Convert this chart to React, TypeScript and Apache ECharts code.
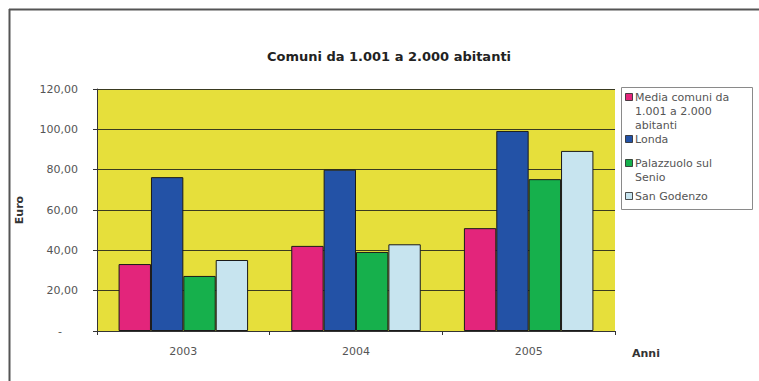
import React, { useEffect, useRef } from "react";
import * as echarts from "echarts";

const titleText = "Comuni da 1.001 a 2.000 abitanti";
const categories = ["2003", "2004", "2005"];
const seriesNames = ["Media comuni da 1.001 a 2.000 abitanti", "Londa", "Palazzuolo sul Senio", "San Godenzo"];
const legendLines = [["Media comuni da", "1.001 a 2.000", "abitanti"], ["Londa"], ["Palazzuolo sul", "Senio"], ["San Godenzo"]];
const mediaValues = [33.2, 42.2, 51.0];
const londaValues = [76.3, 80.0, 99.2];
const palazzuoloValues = [27.3, 39.2, 75.3];
const sanGodenzoValues = [35.2, 43.0, 89.3];
const seriesValues = [mediaValues, londaValues, palazzuoloValues, sanGodenzoValues];
const colors = ["#e3257b", "#2352a6", "#16b04c", "#c7e4ef"];
const yMin = 0;
const yMax = 120;
const yStep = 20;

const FONT = "DejaVu Sans";

export default function App() {
  const ref = useRef<HTMLDivElement>(null);
  useEffect(() => {
    if (!ref.current) return;
    const chart = echarts.init(ref.current, undefined, { renderer: "svg" });

    const legendTops = [97, 139, 163, 196];
    const lineH = 14;
    const legendGraphics: any[] = [
      {
        type: "rect",
        shape: { x: 621.5, y: 87.5, width: 131, height: 122 },
        style: { fill: "#fff", stroke: "#8a8a8a", lineWidth: 1 },
        z: 10,
      },
    ];
    legendLines.forEach((lines, i) => {
      const y0 = legendTops[i];
      legendGraphics.push({
        type: "rect",
        shape: { x: 625.5, y: y0 - 3.5, width: 7, height: 7 },
        style: { fill: colors[i], stroke: "#222", lineWidth: 0.8 },
        z: 11,
      });
      lines.forEach((ln, j) => {
        legendGraphics.push({
          type: "text",
          x: 635,
          y: y0 + j * lineH,
          style: {
            text: ln,
            fill: "#555",
            font: `11px "${FONT}"`,
            textVerticalAlign: "middle",
            verticalAlign: "middle",
          },
          z: 11,
        });
      });
    });

    chart.setOption({
      animation: false,
      backgroundColor: "#ffffff",
      title: {
        text: titleText,
        left: 384,
        textAlign: "center",
        top: 45,
        textStyle: { fontFamily: FONT, fontWeight: "bold", fontSize: 13, color: "#222" },
      },
      grid: {
        left: 97,
        right: 144,
        top: 89,
        bottom: 50,
        show: true,
        backgroundColor: "#e6df3b",
        borderWidth: 0,
      },
      xAxis: {
        type: "category",
        data: categories,
        name: "Anni",
        nameLocation: "end",
        nameGap: 17,
        nameTextStyle: {
          fontFamily: FONT,
          fontWeight: "bold",
          fontSize: 11,
          color: "#333",
          verticalAlign: "top",
          padding: [17, 0, 0, 0],
        },
        axisLine: { show: true, lineStyle: { color: "#333", width: 1 } },
        axisTick: { show: true, length: 4, lineStyle: { color: "#333" } },
        axisLabel: { margin: 15, fontFamily: FONT, fontSize: 11, color: "#555" },
      },
      yAxis: {
        type: "value",
        min: yMin,
        max: yMax,
        interval: yStep,
        name: "Euro",
        nameLocation: "middle",
        nameRotate: 90,
        nameGap: 72,
        nameTextStyle: { fontFamily: FONT, fontWeight: "bold", fontSize: 11, color: "#333" },
        axisLine: { show: true, lineStyle: { color: "#333", width: 1 } },
        axisTick: { show: true, length: 4, inside: false, lineStyle: { color: "#333" } },
        splitLine: { show: true, lineStyle: { color: "#3a3a20", width: 1 } },
        axisLabel: {
          margin: 19,
          fontFamily: FONT,
          fontSize: 11,
          color: "#555",
          formatter: (v: number) => (v === 0 ? "{z|-}" : v.toFixed(2).replace(".", ",")),
          rich: { z: { fontFamily: FONT, fontSize: 11, color: "#555", padding: [0, 16, 0, 0] } },
        },
      },
      series: seriesValues.map((vals, i) => ({
        type: "bar",
        name: seriesNames[i],
        data: vals,
        barGap: "0%",
        barCategoryGap: "25%",
        itemStyle: { color: colors[i], borderColor: "#1a1a1a", borderWidth: 1 },
      })),
      graphic: [
        {
          type: "line",
          shape: { x1: 9, y1: 9.5, x2: 759, y2: 9.5 },
          style: { stroke: "#555", lineWidth: 2 },
        },
        {
          type: "line",
          shape: { x1: 9.5, y1: 9, x2: 9.5, y2: 381 },
          style: { stroke: "#555", lineWidth: 2 },
        },
        ...legendGraphics,
      ],
    });
    return () => chart.dispose();
  }, []);
  return <div ref={ref} style={{ width: 759, height: 381, position: "absolute", left: 0, top: 0 }} />;
}
